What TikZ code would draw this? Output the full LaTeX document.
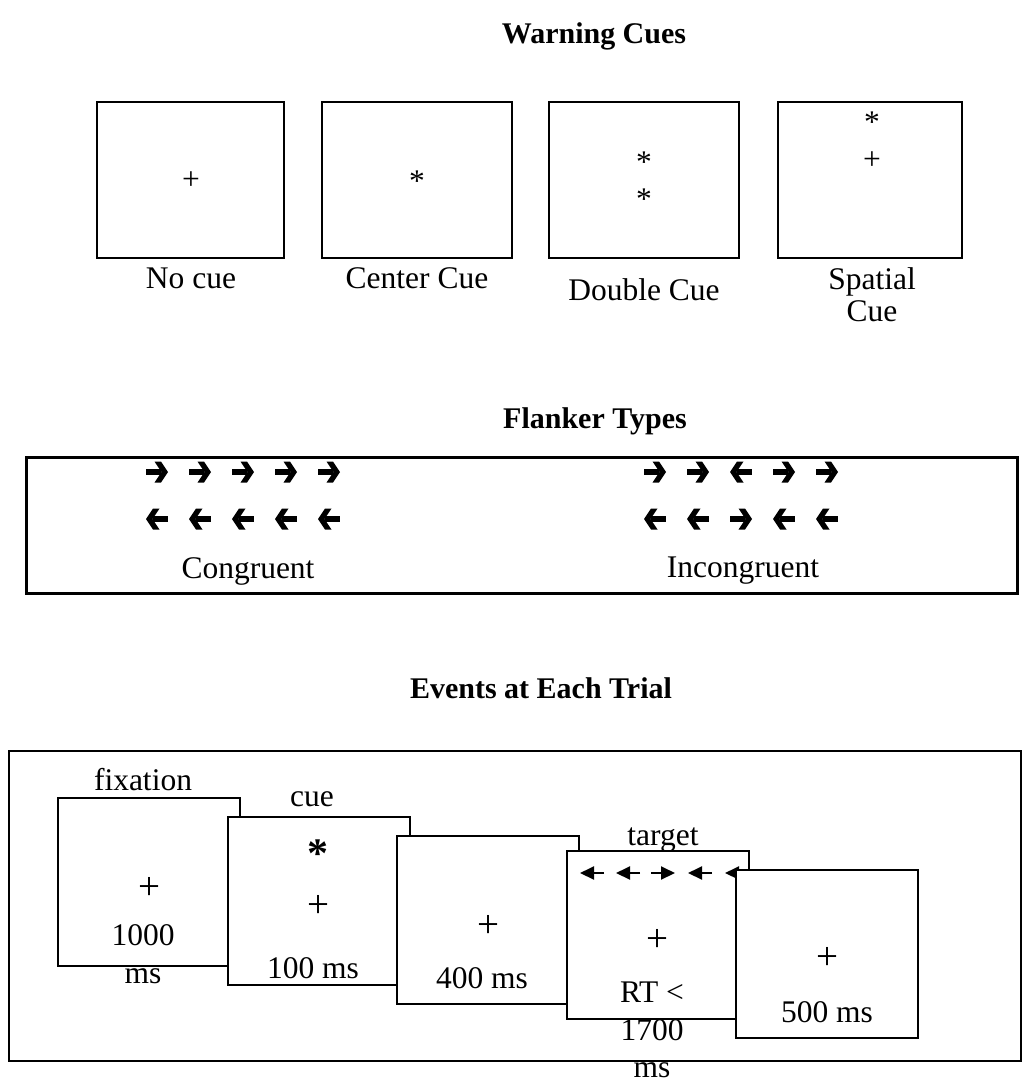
\documentclass[tikz,border=0pt]{standalone}
\usepackage{fontspec}
\setmainfont{Liberation Serif}
\usetikzlibrary{arrows.meta, positioning}

\tikzset{
  pics/flankright/.style={code={
      \fill (-11,-3) rectangle (4,3);
      \fill (-2.5,-10.5) -- (4,-10.5) -- (11,0) -- (4,10.5) -- (-2.5,10.5) -- (4.5,0) -- cycle;}},
  pics/flankleft/.style={code={
      \fill (11,-3) rectangle (-4,3);
      \fill (2.5,-10.5) -- (-4,-10.5) -- (-11,0) -- (-4,10.5) -- (2.5,10.5) -- (-4.5,0) -- cycle;}}
}

\begin{document}
\begin{tikzpicture}[x=1pt, y=-1pt,
    every node/.style={inner sep=0pt, font=\fontsize{31.5}{32}\selectfont},
    title/.style={font=\fontsize{30}{32}\selectfont\bfseries},
    cuebox/.style={draw, line width=2.6pt, minimum width=188pt, minimum height=156pt},
    trialbox/.style={draw, fill=white, line width=2pt, minimum width=182pt, minimum height=168pt},
    bigplus/.style={font=\fontsize{39}{39}\selectfont},
    stack/.style={align=center, font=\fontsize{31.5}{37.5}\selectfont}]
  \useasboundingbox (0,0) rectangle (1024,1082);

  % warning cues
  \node[title] (cuetitle) at (594,36) {Warning Cues};
  \node[cuebox, minimum width=187pt] (nocue) at (190.5,180) {};
  \node[cuebox, minimum width=190pt] (center) at (417,180) {};
  \node[cuebox, minimum width=190pt] (double) at (644,180) {};
  \node[cuebox, minimum width=184pt] (spatial) at (870,180) {};
  \node (nocueplus) at (191,181) {+};
  \node (centerstar) at (417,181) {*};
  \node (doublestar1) at (644,162) {*};
  \node (doublestar2) at (644,199) {*};
  \node (spatialstar) at (872,122) {*};
  \node (spatialplus) at (872,161) {+};
  \node (nocuelbl) at (191,278) {No cue};
  \node (centerlbl) at (417,278) {Center Cue};
  \node (doublelbl) at (644,290) {Double Cue};
  \node[align=center] (spatiallbl) at (872,295) {Spatial\\Cue};

  % flanker types
  \node[title] (flanktitle) at (595,421) {Flanker Types};
  \draw[line width=3pt] (26,457) rectangle (1017,593);
  \foreach \x in {157,200,243,286,329} {
    \pic at (\x,472) {flankright};
    \pic at (\x,519) {flankleft};
  }
  \foreach \x/\top/\bot in {655/right/left, 698/right/left, 741/left/right,
                           784/right/left, 827/right/left} {
    \pic at (\x,472) {flank\top};
    \pic at (\x,519) {flank\bot};
  }
  \node (conglbl) at (248,571) {Congruent};
  \node (inclbl) at (743,571) {Incongruent};

  % events at each trial
  \node[title] (trialtitle) at (541,688) {Events at Each Trial};
  \draw[line width=2pt] (9,751) rectangle (1021,1061);

  \node[trialbox] (fix) at (149,881.5) {};
  \node (fixlbl) at (143,780) {fixation};
  \node[bigplus] (fixplus) at (149,888) {+};
  \node[stack] (fixtime) at (143,954) {1000\\ms};

  \node[trialbox] (cue) at (318.5,901) {};
  \node (cuelbl) at (312,799) {cue};
  \node[font=\fontsize{42}{42}\selectfont\bfseries] (cuestar) at (318,854) {*};
  \node[bigplus] (cueplus) at (318,906) {+};
  \node (cuetime) at (313,968) {100 ms};

  \node[trialbox] (wait) at (488,919.5) {};
  \node[bigplus] (waitplus) at (488,926) {+};
  \node (waittime) at (482,978) {400 ms};

  \node[trialbox] (target) at (657.5,935) {};
  \node (targetlbl) at (663,840) {target};
  \foreach \x/\s in {592/-1, 628/-1, 663/1, 700/-1, 737/-1}
    \draw[line width=2pt, -{Triangle[length=14pt, width=13pt]}]
      (\x-12*\s,873) -- (\x+12*\s,873);
  \node[bigplus] (targetplus) at (657,940) {+};
  \node[stack] (rtlimit) at (652,1030) {RT <\\1700\\ms};

  \node[trialbox] (blank) at (827,954) {};
  \node[bigplus] (blankplus) at (827,958) {+};
  \node (blanktime) at (827,1012) {500 ms};
\end{tikzpicture}
\end{document}
